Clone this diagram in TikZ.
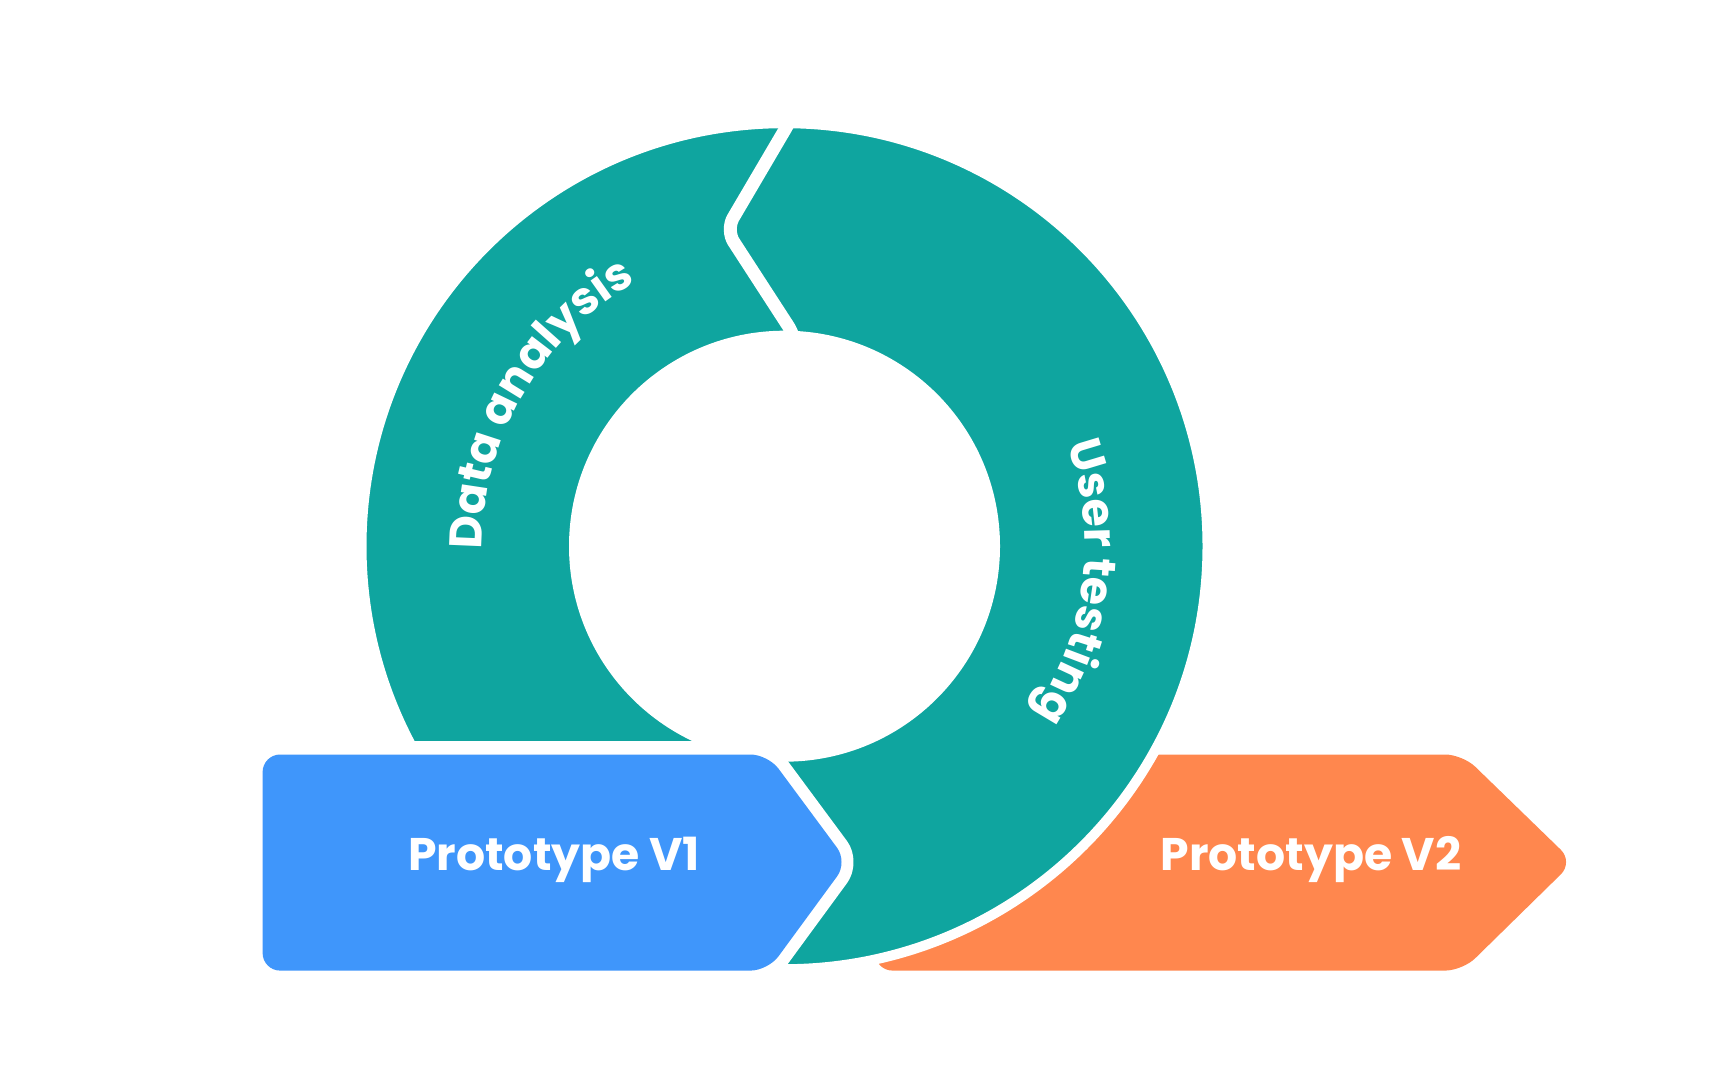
\documentclass[tikz,border=0pt]{standalone}
\usepackage{fontspec}
\setmainfont{Poppins}
\usetikzlibrary{decorations.text,calc}
\definecolor{teal1}{HTML}{0FA59F}
\definecolor{blue1}{HTML}{3F96FB}
\definecolor{orange1}{HTML}{FF874E}
\tikzset{
  lbl/.style={text=white,font=\fontsize{13}{15}\selectfont\bfseries},
  gap/.style={draw=white,line width=13pt*0.2845,line join=round}
}
\begin{document}
\begin{tikzpicture}[x=0.01cm,y=0.01cm]
\useasboundingbox (0,0) rectangle (1728,-1080);
\coordinate (C) at (784.5,-546.2);
% orange arrow
\fill[orange1,rounded corners=5pt] (1000,-754.5) -- (1462.6,-754.5) -- (1573.4,-862) -- (1462.6,-970.6) -- (875,-970.6) -- (875,-754.5) -- cycle;
% ring
\path[fill=teal1,draw=white,line width=10*0.2845pt,even odd rule] (C) circle[radius=423] (C) circle[radius=210.5];
% top gap
\draw[gap,rounded corners=4pt] (793,-100) -- (793,-116) -- (726,-230) -- (796,-338) -- (796,-350);
% remove lower-left part of ring
\fill[white] (340,-741) rectangle (780,-1010);
% blue arrow
\draw[white,line width=24*0.2845pt,line join=round,rounded corners=5pt] (262.6,-754.5) -- (768,-754.5) -- (847.6,-862) -- (768,-970.6) -- (262.6,-970.6) -- cycle;
\fill[blue1,rounded corners=5pt] (262.6,-754.5) -- (768,-754.5) -- (847.6,-862) -- (768,-970.6) -- (262.6,-970.6) -- cycle;
\node[lbl] (p1) at (554,-860) {Prototype V1};
\node[lbl] (p2) at (1311,-860) {Prototype V2};
% ring texts
\path[decorate,decoration={text along path,text align=center,
  text={|\color{white}\fontsize{13}{15}\selectfont\bfseries|Data analysis}}]
  ($(C)+(195:302)$) arc[start angle=195,end angle=105,radius=302];
\path[decorate,decoration={text along path,text align=center,
  text={|\color{white}\fontsize{13}{15}\selectfont\bfseries|User testing}}]
  ($(C)+(36:300)$) arc[start angle=36,end angle=-50,radius=300];
\end{tikzpicture}
\end{document}
